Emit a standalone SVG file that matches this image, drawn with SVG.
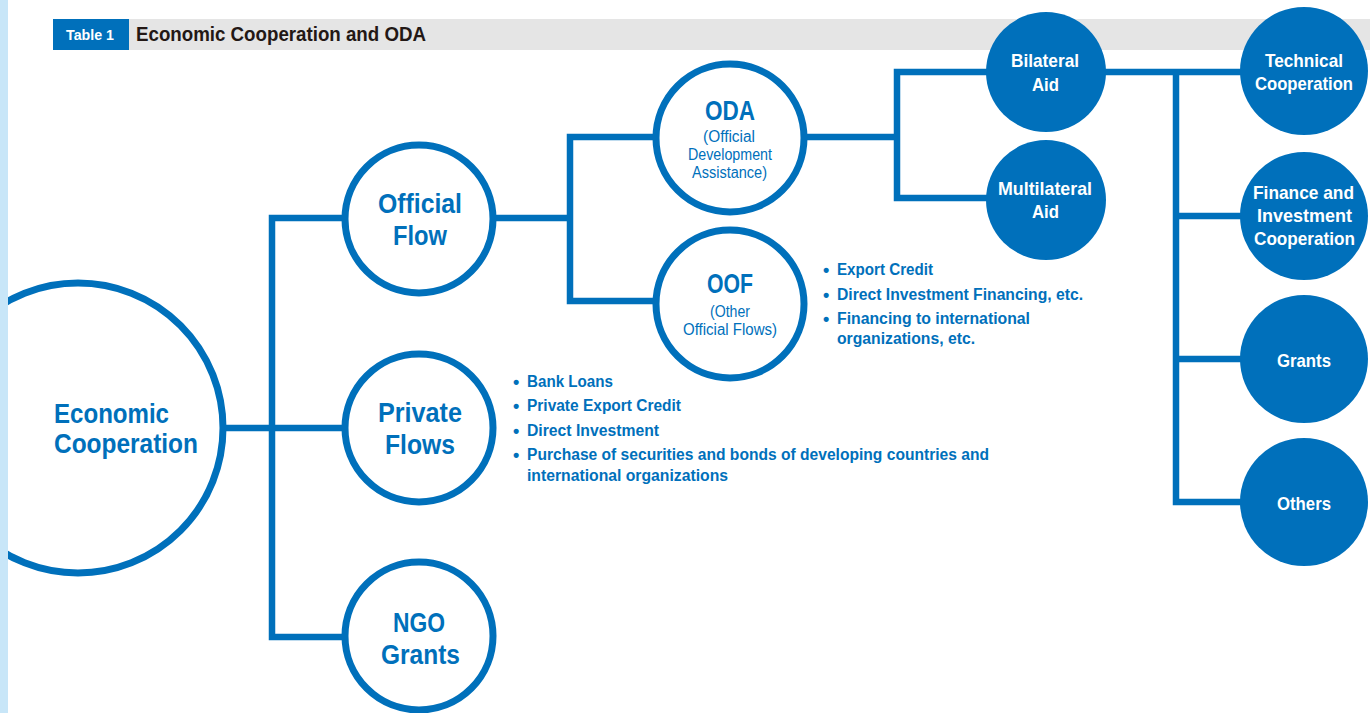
<svg xmlns="http://www.w3.org/2000/svg" width="1370" height="713" viewBox="0 0 1370 713">
<defs>
<style>
text{font-family:"Liberation Sans Narrow","Liberation Sans",Arial,sans-serif;font-weight:bold;}
.ring{fill:#ffffff;stroke:#0070bb;stroke-width:7;}
.disc{fill:#0070bb;}
.conn{fill:none;stroke:#0070bb;stroke-width:6.5;stroke-linejoin:miter;}
.big{fill:#0070bb;font-size:28px;text-anchor:start;}
.sub{fill:#0070bb;font-size:16px;font-weight:normal;}
.wl{fill:#ffffff;font-size:19px;}
.bl{fill:#0070bb;font-size:16px;}
.dot{fill:#0070bb;font-size:18px;}
</style>
</defs>
<rect x="0" y="0" width="1370" height="713" fill="#ffffff"/>
<g id="header">
<rect x="129" y="19" width="1241" height="31" fill="#e5e5e5"/>
<rect x="53" y="19" width="76" height="31" fill="#0070bb"/>
<text x="66" y="40" font-size="14" fill="#ffffff" textLength="48" lengthAdjust="spacingAndGlyphs">Table 1</text>
<text x="136" y="41" font-size="20" fill="#231815" textLength="290" lengthAdjust="spacingAndGlyphs">Economic Cooperation and ODA</text>
</g>
<g id="connectors">
<path class="conn" d="M222,428 H345"/>
<path class="conn" d="M345,218 H272 V637 H345"/>
<path class="conn" d="M493,218 H570"/>
<path class="conn" d="M656,137 H570 V301 H656"/>
<path class="conn" d="M804,137 H897"/>
<path class="conn" d="M987,72 H897 V198 H987"/>
<path class="conn" d="M1105,72 H1242"/>
<path class="conn" d="M1176,72 V502 H1242"/>
<path class="conn" d="M1176,216 H1242"/>
<path class="conn" d="M1176,359 H1242"/>
</g>
<g id="economic-cooperation">
<circle class="ring" cx="78" cy="428" r="145"/>
<text class="big" x="54" y="423" textLength="115" lengthAdjust="spacingAndGlyphs">Economic</text>
<text class="big" x="54" y="453" textLength="144" lengthAdjust="spacingAndGlyphs">Cooperation</text>
</g>
<rect id="left-strip" x="0" y="0" width="8" height="713" fill="#c8e6f8"/>
<g id="official-flow">
<circle class="ring" cx="419" cy="219" r="74"/>
<text class="big" x="378" y="213" textLength="84" lengthAdjust="spacingAndGlyphs">Official</text>
<text class="big" x="393" y="245" textLength="54" lengthAdjust="spacingAndGlyphs">Flow</text>
</g>
<g id="private-flows">
<circle class="ring" cx="419" cy="428" r="74"/>
<text class="big" x="378" y="422" textLength="84" lengthAdjust="spacingAndGlyphs">Private</text>
<text class="big" x="385" y="454" textLength="70" lengthAdjust="spacingAndGlyphs">Flows</text>
</g>
<g id="ngo-grants">
<circle class="ring" cx="419" cy="636" r="74"/>
<text class="big" x="393" y="632" textLength="52" lengthAdjust="spacingAndGlyphs">NGO</text>
<text class="big" x="381" y="664" textLength="79" lengthAdjust="spacingAndGlyphs">Grants</text>
</g>
<g id="oda">
<circle class="ring" cx="730" cy="138" r="74"/>
<text class="big" x="705" y="120" textLength="50" lengthAdjust="spacingAndGlyphs">ODA</text>
<text class="sub" x="703" y="142" textLength="52" lengthAdjust="spacingAndGlyphs">(Official</text>
<text class="sub" x="688" y="160" textLength="84" lengthAdjust="spacingAndGlyphs">Development</text>
<text class="sub" x="692" y="178" textLength="75" lengthAdjust="spacingAndGlyphs">Assistance)</text>
</g>
<g id="oof">
<circle class="ring" cx="730" cy="304" r="74"/>
<text class="big" x="707" y="293" textLength="46" lengthAdjust="spacingAndGlyphs">OOF</text>
<text class="sub" x="710" y="317" textLength="40" lengthAdjust="spacingAndGlyphs">(Other</text>
<text class="sub" x="683" y="335" textLength="94" lengthAdjust="spacingAndGlyphs">Official Flows)</text>
</g>
<g id="oof-list">
<text class="dot" x="823" y="276">•</text>
<text class="bl" x="837" y="275" textLength="96" lengthAdjust="spacingAndGlyphs">Export Credit</text>
<text class="dot" x="823" y="301">•</text>
<text class="bl" x="837" y="300" textLength="246" lengthAdjust="spacingAndGlyphs">Direct Investment Financing, etc.</text>
<text class="dot" x="823" y="325">•</text>
<text class="bl" x="837" y="324" textLength="193" lengthAdjust="spacingAndGlyphs">Financing to international</text>
<text class="bl" x="837" y="344" textLength="138" lengthAdjust="spacingAndGlyphs">organizations, etc.</text>
</g>
<g id="private-list">
<text class="dot" x="513" y="388">•</text>
<text class="bl" x="527" y="387" textLength="86" lengthAdjust="spacingAndGlyphs">Bank Loans</text>
<text class="dot" x="513" y="412">•</text>
<text class="bl" x="527" y="411" textLength="154" lengthAdjust="spacingAndGlyphs">Private Export Credit</text>
<text class="dot" x="513" y="437">•</text>
<text class="bl" x="527" y="436" textLength="132" lengthAdjust="spacingAndGlyphs">Direct Investment</text>
<text class="dot" x="513" y="461">•</text>
<text class="bl" x="527" y="460" textLength="462" lengthAdjust="spacingAndGlyphs">Purchase of securities and bonds of developing countries and</text>
<text class="bl" x="527" y="481" textLength="201" lengthAdjust="spacingAndGlyphs">international organizations</text>
</g>
<g id="bilateral-aid">
<circle class="disc" cx="1046" cy="72" r="60"/>
<text class="wl" x="1011" y="67" textLength="68" lengthAdjust="spacingAndGlyphs">Bilateral</text>
<text class="wl" x="1032" y="91" textLength="27" lengthAdjust="spacingAndGlyphs">Aid</text>
</g>
<g id="multilateral-aid">
<circle class="disc" cx="1046" cy="200" r="60"/>
<text class="wl" x="998" y="195" textLength="94" lengthAdjust="spacingAndGlyphs">Multilateral</text>
<text class="wl" x="1032" y="218" textLength="27" lengthAdjust="spacingAndGlyphs">Aid</text>
</g>
<g id="technical-cooperation">
<circle class="disc" cx="1304" cy="71" r="64"/>
<text class="wl" x="1265" y="67" textLength="78" lengthAdjust="spacingAndGlyphs">Technical</text>
<text class="wl" x="1255" y="90" textLength="98" lengthAdjust="spacingAndGlyphs">Cooperation</text>
</g>
<g id="finance-investment">
<circle class="disc" cx="1304" cy="216" r="64"/>
<text class="wl" x="1253" y="199" textLength="101" lengthAdjust="spacingAndGlyphs">Finance and</text>
<text class="wl" x="1257" y="222" textLength="95" lengthAdjust="spacingAndGlyphs">Investment</text>
<text class="wl" x="1254" y="245" textLength="101" lengthAdjust="spacingAndGlyphs">Cooperation</text>
</g>
<g id="grants">
<circle class="disc" cx="1304" cy="359" r="64"/>
<text class="wl" x="1277" y="367" textLength="54" lengthAdjust="spacingAndGlyphs">Grants</text>
</g>
<g id="others">
<circle class="disc" cx="1304" cy="502" r="64"/>
<text class="wl" x="1277" y="510" textLength="54" lengthAdjust="spacingAndGlyphs">Others</text>
</g>
</svg>
